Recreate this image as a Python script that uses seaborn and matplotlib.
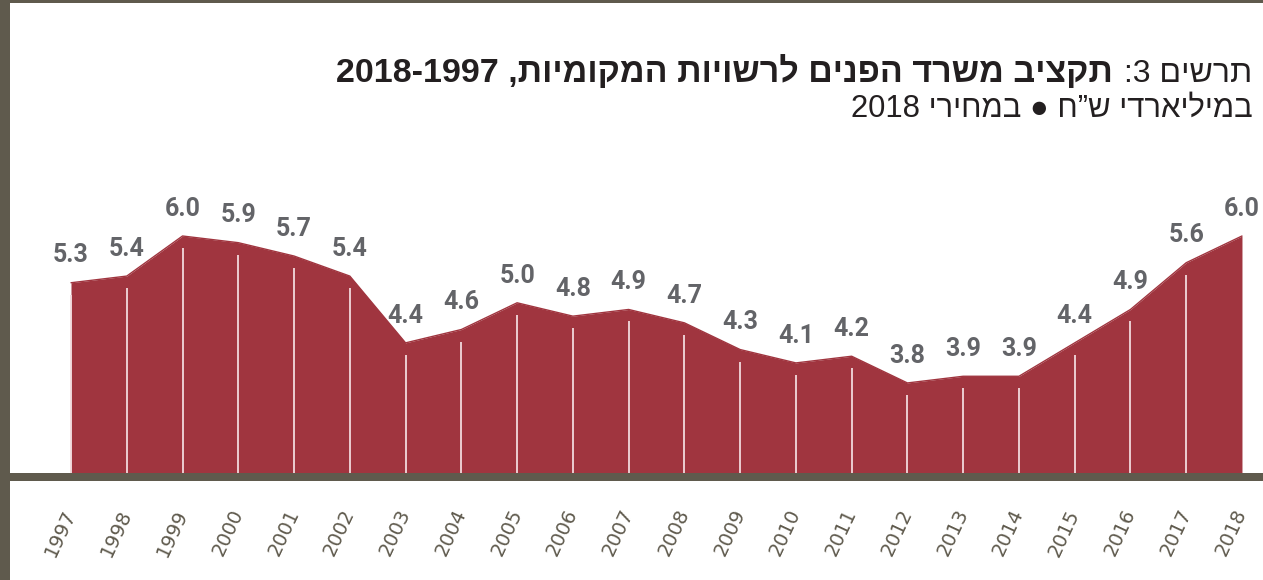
import re

import matplotlib
matplotlib.use("Agg")
import matplotlib.pyplot as plt
import pandas as pd
import seaborn as sns
from matplotlib.patches import Rectangle

# data (billions NIS, 2018 prices)
years = list(range(1997, 2019))
budget = [5.3, 5.4, 6.0, 5.9, 5.7, 5.4, 4.4, 4.6, 5.0, 4.8, 4.9,
          4.7, 4.3, 4.1, 4.2, 3.8, 3.9, 3.9, 4.4, 4.9, 5.6, 6.0]

title_prefix = "תרשים 3:"
title_main = "תקציב משרד הפנים לרשויות המקומיות, 2018-1997"
subtitle = "במיליארדי ש”ח ● במחירי 2018"

FILL = "#a0353f"
FRAME = "#5f5a4d"
LABEL = "#636468"
HEB = ["Liberation Sans", "DejaVu Sans"]


def visual(s):
    """Crude bidi: matplotlib draws left-to-right, so flip the RTL text
    and turn number runs back around."""
    out = s[::-1]
    return re.sub(r"\d[\d\-\.]*\d|\d", lambda m: m.group(0)[::-1], out)


df = pd.DataFrame({"year": years, "budget": budget})
df["pos"] = range(len(df))

sns.set_theme(style="white")
plt.rcParams["font.family"] = HEB

W, H = 1263, 580
fig = plt.figure(figsize=(W / 100, H / 100), dpi=100)
fig.patch.set_facecolor("white")

ybot = 2.392
ytop = 9.533
ax = fig.add_axes([10 / W, (H - 477) / H, 1 - 10 / W, 477 / H])
ax.set_facecolor("none")

sns.lineplot(data=df, x="pos", y="budget", color=FILL, lw=1, ax=ax)
ax.fill_between(df["pos"], df["budget"], ybot, color=FILL, lw=0)
ax.vlines(df["pos"][:-1], ybot, df["budget"][:-1] - 0.18,
          color="#f1dadd", lw=1.3)

for x, y in zip(df["pos"], df["budget"]):
    ax.annotate(f"{y:.1f}", (x, y), xytext=(0, 11), textcoords="offset points",
                ha="center", va="bottom", fontsize=18, fontweight="bold",
                family="Roboto", color=LABEL)

ax.set_xlim(-1.094, 21.377)
ax.set_ylim(ybot, ytop)
ax.set_xlabel("")
ax.set_ylabel("")
ax.set_yticks([])
ax.set_xticks(df["pos"])
ax.set_xticklabels(years, rotation=65, ha="right", va="center",
                   rotation_mode="anchor", fontsize=14, color=FRAME,
                   family="DejaVu Sans")
ax.tick_params(axis="x", length=0, pad=24)

for side in ["top", "left", "right"]:
    ax.spines[side].set_visible(False)
ax.spines["bottom"].set_color(FRAME)
ax.spines["bottom"].set_linewidth(5.76)

# frame bands on the left and top
fig.add_artist(Rectangle((0, 0), 10 / W, 1, transform=fig.transFigure,
                         color=FRAME, lw=0, zorder=10))
fig.add_artist(Rectangle((0, 1 - 3 / H), 1, 3 / H, transform=fig.transFigure,
                         color=FRAME, lw=0, zorder=10))

# titles (right aligned, RTL)
t1 = fig.text(1252 / W, 1 - 82 / H, visual(title_prefix), ha="right",
              va="baseline", fontsize=23, color="#231f20", family=HEB)
fig.canvas.draw()
bb = t1.get_window_extent()
fig.text((bb.x0 - 11) / W, 1 - 82 / H, visual(title_main), ha="right",
         va="baseline", fontsize=24.5, fontweight="bold", color="#231f20",
         family=HEB)
fig.text(1253 / W, 1 - 117 / H, visual(subtitle), ha="right",
         va="baseline", fontsize=22.3, color="#231f20", family=HEB)

fig.savefig("out.png", dpi=100, facecolor="white")
